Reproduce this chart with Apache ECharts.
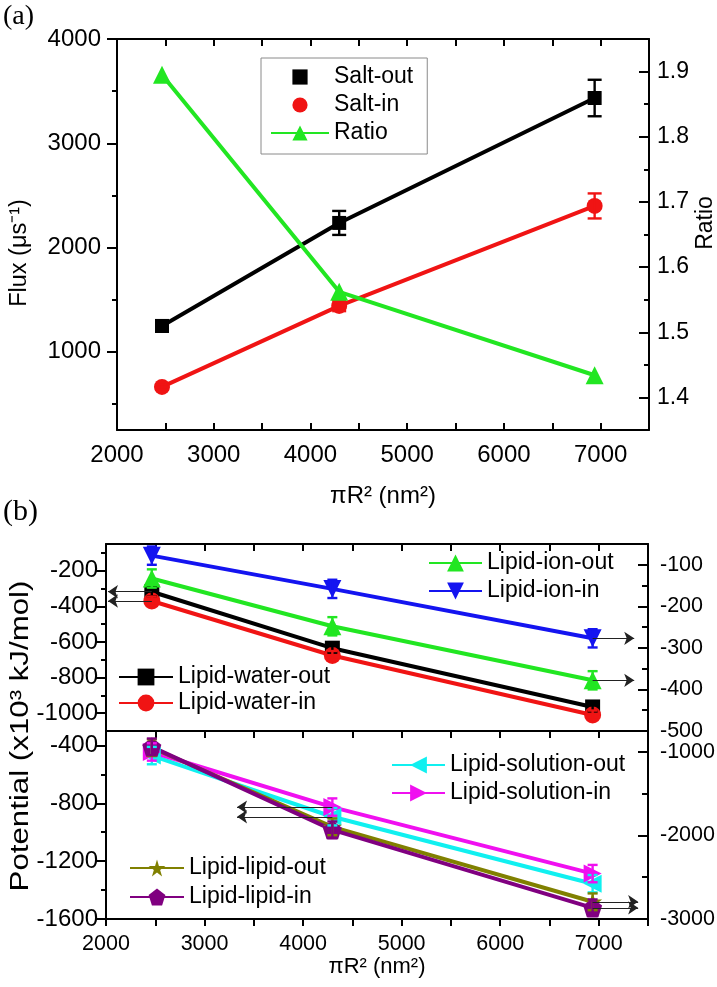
<!DOCTYPE html>
<html><head><meta charset="utf-8">
<script src="https://cdn.jsdelivr.net/npm/echarts@6/dist/echarts.min.js"></script>
<style>html,body{margin:0;padding:0;background:#fff}#c{width:717px;height:987px}</style>
</head><body><div id="c"></div>
<script>
// ================= DATA =================
const areaX = [2465, 4297, 6938];           // πR² (nm²)

// panel (a)
const saltOut    = [1248, 2236, 3434];
const saltOutErr = [55, 115, 175];
const saltIn     = [663, 1440, 2399];
const saltInErr  = [25, 50, 120];
const ratio      = [1.895, 1.562, 1.434];

// panel (b) upper
const waterOut = [-318, -635, -965];   // left axis
const waterIn  = [-370, -676, -1010];  // left axis
const ionOut   = [-133, -248, -378];   // right axis
const ionIn    = [-78, -158, -277];    // right axis
const waterErr = [25, 25, 25];
const ionErr   = [22, 22, 22];

// panel (b) lower
const solOut = [-470, -893, -1356];    // left axis
const solIn  = [-445, -826, -1286];    // left axis
const lipOut = [-950, -1897, -2794];   // right axis
const lipIn  = [-940, -1933, -2866];   // right axis
const solErr = [60, 60, 60];
const lipErr = [100, 100, 100];

// arrow annotation tips (x value where arrow ends)
const arrowTipUpperLeft  = 2020;
const arrowTipUpperRight = 7360;
const arrowTipLowerLeft  = 3330;
const arrowTipLowerRight = 7400;

// axes / ticks
const xMin = 2000, xMax = 7500;
const xLabels = [2000, 3000, 4000, 5000, 6000, 7000];
const fluxRange = [250, 4000];
const fluxTicks = [1000, 2000, 3000, 4000];
const fluxMinor = [500, 1500, 2500, 3500];
const ratioRange = [1.35, 1.95];
const ratioTicks = [1.4, 1.5, 1.6, 1.7, 1.8, 1.9];
const ratioMinor = [1.45, 1.55, 1.65, 1.75, 1.85];
const upLRange = [-1100, -50];
const upLTicks = [-1000, -800, -600, -400, -200];
const upLMinor = [-900, -700, -500, -300, -100];
const upRRange = [-500, -50];
const upRTicks = [-500, -400, -300, -200, -100];
const upRMinor = [-450, -350, -250, -150];
const loLRange = [-1600, -300];
const loLTicks = [-1600, -1200, -800, -400];
const loLMinor = [-1400, -1000, -600];
const loRRange = [-3000, -750];
const loRTicks = [-3000, -2000, -1000];
const loRMinor = [-2500, -1500];

const xName = 'πR² (nm²)';
const fluxName = 'Flux (μs⁻¹)';
const ratioName = 'Ratio';
const potName = 'Potential (x10³ kJ/mol)';

// ================= STYLE / BUILD =================
const FONT = '"Liberation Sans", Arial, sans-serif';
const C = {black:'#000000', red:'#f01414', green:'#22e622', blue:'#1414f0',
           cyan:'#10f0f0', magenta:'#f010f0', olive:'#808000', purple:'#800080'};
const SYM = {
  triDown: 'path://M0,0L10,0L5,9Z',
  triLeft: 'path://M9,0L9,10L0,5Z',
  triRight:'path://M0,0L9,5L0,10Z',
  star: 'path://M50,0L61,35L98,35L68,57L79,91L50,70L21,91L32,57L2,35L39,35Z',
  pent: 'path://M50,0L98,35L79,91L21,91L2,35Z'
};
const lineW = 4;
const axLine = {show:true, onZero:false, lineStyle:{color:'#000', width:2}};
const plain = v => String(v);

function pts(vals){ return areaX.map((x,i)=>[x, vals[i]]); }

function lineSeries(name, xi, yi, vals, color, symbol, size, extra){
  return Object.assign({
    type:'line', name, xAxisIndex:xi, yAxisIndex:yi, data:pts(vals),
    symbol, symbolSize:size, showAllSymbol:true,
    lineStyle:{color, width:lineW}, itemStyle:{color, borderWidth:0},
    emphasis:{disabled:true}, animation:false, z:3
  }, extra || {});
}

function errSeries(xi, yi, vals, errs, color, cap){
  return {
    type:'custom', xAxisIndex:xi, yAxisIndex:yi, silent:true, animation:false, z:4,
    data: areaX.map((x,i)=>[x, vals[i], errs[i]]),
    encode:{x:0, y:1},
    renderItem(params, api){
      const x = api.value(0), y = api.value(1), e = api.value(2);
      const a = api.coord([x, y + e]), b = api.coord([x, y - e]);
      const st = {stroke:color, lineWidth:2.4};
      return {type:'group', children:[
        {type:'line', shape:{x1:a[0], y1:a[1], x2:b[0], y2:b[1]}, style:st},
        {type:'line', shape:{x1:a[0]-cap, y1:a[1], x2:a[0]+cap, y2:a[1]}, style:st},
        {type:'line', shape:{x1:b[0]-cap, y1:b[1], x2:b[0]+cap, y2:b[1]}, style:st}
      ]};
    }
  };
}

function arrows(list){
  return {
    silent:true, animation:false, symbol:['none','arrow'], symbolSize:10,
    lineStyle:{color:'#222', width:1, type:'solid'}, itemStyle:{color:'#222'},
    label:{show:false}, emphasis:{disabled:true},
    data: list.map(a => [{coord:[a[0], a[1]]}, {coord:[a[2], a[1]]}])
  };
}

function xAx(grid, pos, opts){
  return Object.assign({
    type:'value', gridIndex:grid, position:pos, min:xMin, max:xMax, interval:500,
    splitLine:{show:false}, axisLine:axLine,
    axisTick:{show:true, inside:true, length:7, lineStyle:{color:'#000', width:2}},
    axisLabel:{show:false}, nameMoveOverlap:false
  }, opts || {});
}

function yAx(grid, pos, range, ticks, inside, len, opts){
  return Object.assign({
    type:'value', gridIndex:grid, position:pos, min:range[0], max:range[1],
    splitLine:{show:false}, axisLine:axLine,
    axisTick:{show:true, inside, length:len, customValues:ticks, lineStyle:{color:'#000', width:2}},
    axisLabel:{show:false}, nameMoveOverlap:false
  }, opts || {});
}
function labels(ticks, size, margin){
  return {show:true, customValues:ticks, fontSize:size, fontFamily:FONT, color:'#000', margin, formatter:plain};
}
function nameStyle(size){
  return {fontSize:size, fontFamily:FONT, color:'#000'};
}

const grid = [
  {left:117, top:39, width:532, height:391, outerBoundsMode:'none'},
  {left:106, top:544, width:542, height:187, outerBoundsMode:'none'},
  {left:106, top:731, width:542, height:188, outerBoundsMode:'none'}
];

const xAxis = [
  xAx(0, 'bottom', {axisLabel:labels(xLabels, 24, 13),
       name:xName, nameLocation:'middle', nameGap:54, nameTextStyle:nameStyle(24)}),
  xAx(0, 'top'),
  xAx(1, 'bottom', {axisTick:{show:false}}),
  xAx(1, 'top'),
  xAx(2, 'bottom', {axisTick:{show:true, inside:false, length:7, lineStyle:{color:'#000', width:2}},
       axisLabel:labels(xLabels, 21.5, 14),
       name:xName, nameLocation:'middle', nameGap:37, nameTextStyle:nameStyle(22)}),
  xAx(2, 'top')
];

const yAxis = [
  // 0,1 : panel (a)
  yAx(0, 'left', fluxRange, fluxTicks, false, 10, {axisLabel:labels(fluxTicks, 24, 16)}),
  yAx(0, 'right', ratioRange, ratioTicks, true, 10, {axisLabel:labels(ratioTicks, 23, 8)}),
  // 2,3 : panel (a) minor ticks
  yAx(0, 'left', fluxRange, fluxMinor, false, 5, {axisLine:{show:false}}),
  yAx(0, 'right', ratioRange, ratioMinor, true, 5, {axisLine:{show:false}}),
  // 4,5 : panel (b) upper
  yAx(1, 'left', upLRange, upLTicks, false, 10, {axisLabel:labels(upLTicks, 24, 8)}),
  yAx(1, 'right', upRRange, upRTicks, true, 10, {axisLabel:labels(upRTicks, 21.5, 12)}),
  // 6,7 minor
  yAx(1, 'left', upLRange, upLMinor, false, 5, {axisLine:{show:false}}),
  yAx(1, 'right', upRRange, upRMinor, true, 6, {axisLine:{show:false}}),
  // 8,9 : panel (b) lower
  yAx(2, 'left', loLRange, loLTicks, false, 10, {axisLabel:labels(loLTicks, 24, 8)}),
  yAx(2, 'right', loRRange, loRTicks, true, 10, {axisLabel:labels(loRTicks, 21.5, 12)}),
  // 10,11 minor
  yAx(2, 'left', loLRange, loLMinor, false, 5, {axisLine:{show:false}}),
  yAx(2, 'right', loRRange, loRMinor, true, 6, {axisLine:{show:false}})
];

const series = [
  // panel (a)
  lineSeries('Salt-out', 0, 0, saltOut, C.black, 'rect', 14),
  lineSeries('Salt-in', 0, 0, saltIn, C.red, 'circle', 16),
  errSeries(0, 0, saltOut, saltOutErr, C.black, 7),
  errSeries(0, 0, saltIn, saltInErr, C.red, 7),
  lineSeries('Ratio', 0, 1, ratio, C.green, 'triangle', 18, {z:5}),

  // panel (b) upper
  lineSeries('Lipid-water-out', 2, 4, waterOut, C.black, 'rect', 15, {
    markLine: arrows([[areaX[0], waterOut[0], arrowTipUpperLeft], [areaX[0], waterIn[0], arrowTipUpperLeft]])}),
  lineSeries('Lipid-water-in', 2, 4, waterIn, C.red, 'circle', 17),
  errSeries(2, 4, waterOut, waterErr, C.black, 5),
  errSeries(2, 4, waterIn, waterErr, C.red, 5),
  lineSeries('Lipid-ion-out', 2, 5, ionOut, C.green, 'triangle', 18, {
    markLine: arrows([[areaX[2], ionIn[2], arrowTipUpperRight], [areaX[2], ionOut[2], arrowTipUpperRight]])}),
  lineSeries('Lipid-ion-in', 2, 5, ionIn, C.blue, SYM.triDown, 18),
  errSeries(2, 5, ionOut, ionErr, C.green, 5),
  errSeries(2, 5, ionIn, ionErr, C.blue, 5),

  // panel (b) lower
  lineSeries('Lipid-solution-out', 4, 8, solOut, C.cyan, SYM.triLeft, 18, {
    markLine: arrows([[areaX[1], solIn[1], arrowTipLowerLeft], [areaX[1], solOut[1], arrowTipLowerLeft]])}),
  lineSeries('Lipid-solution-in', 4, 8, solIn, C.magenta, SYM.triRight, 18),
  errSeries(4, 8, solOut, solErr, C.cyan, 5),
  errSeries(4, 8, solIn, solErr, C.magenta, 5),
  lineSeries('Lipid-lipid-out', 4, 9, lipOut, C.olive, SYM.star, 19, {
    markLine: arrows([[areaX[2], lipOut[2], arrowTipLowerRight], [areaX[2], lipIn[2], arrowTipLowerRight]])}),
  lineSeries('Lipid-lipid-in', 4, 9, lipIn, C.purple, SYM.pent, 19),
  errSeries(4, 9, lipOut, lipErr, C.olive, 5),
  errSeries(4, 9, lipIn, lipErr, C.purple, 5)
];

const legText = {fontSize:23, fontFamily:FONT, color:'#000'};
function leg(left, top, gap, width, names){
  return {left, top, orient:'vertical', padding:0, itemWidth:width, itemHeight:21, itemGap:gap,
          selectedMode:false, textStyle:legText, data:names};
}
const legend = [
  {left:261, top:58, orient:'vertical', padding:[7.5,14,9.5,9], itemWidth:58, itemHeight:19, itemGap:5,
   borderColor:'#8a8a8a', borderWidth:1, selectedMode:false, textStyle:legText,
   data:[{name:'Salt-out', lineStyle:{opacity:0}}, {name:'Salt-in', lineStyle:{opacity:0}}, {name:'Ratio'}]},
  leg(428, 551.5, 5, 53, ['Lipid-ion-out', 'Lipid-ion-in']),
  leg(118, 665.5, 3, 54, ['Lipid-water-out', 'Lipid-water-in']),
  leg(391, 753.5, 5, 53, ['Lipid-solution-out', 'Lipid-solution-in']),
  leg(129, 856.5, 6, 54, ['Lipid-lipid-out', 'Lipid-lipid-in'])
];

function vText(text, x, y, size, sx){
  return {type:'text', x, y, rotation:Math.PI/2, scaleX:sx,
          style:{text, fontSize:size, fontFamily:FONT, fill:'#000', align:'center', verticalAlign:'middle'}};
}
const graphic = [
  {type:'text', left:3, top:3, style:{text:'(a)', fontSize:28, fontFamily:'"Liberation Serif", serif', fill:'#000'}},
  {type:'text', left:3, top:497, style:{text:'(b)', fontSize:30, fontFamily:'"Liberation Serif", serif', fill:'#000'}},
  vText(fluxName, 20, 253, 23.5, 1),
  vText(ratioName, 706, 223, 23, 1),
  vText(potName, 21, 736, 25, 1.25)
];

const chart = echarts.init(document.getElementById('c'), null, {renderer:'canvas'});
chart.setOption({backgroundColor:'#fff', animation:false, grid, xAxis, yAxis, series, legend, graphic});
</script></body></html>
